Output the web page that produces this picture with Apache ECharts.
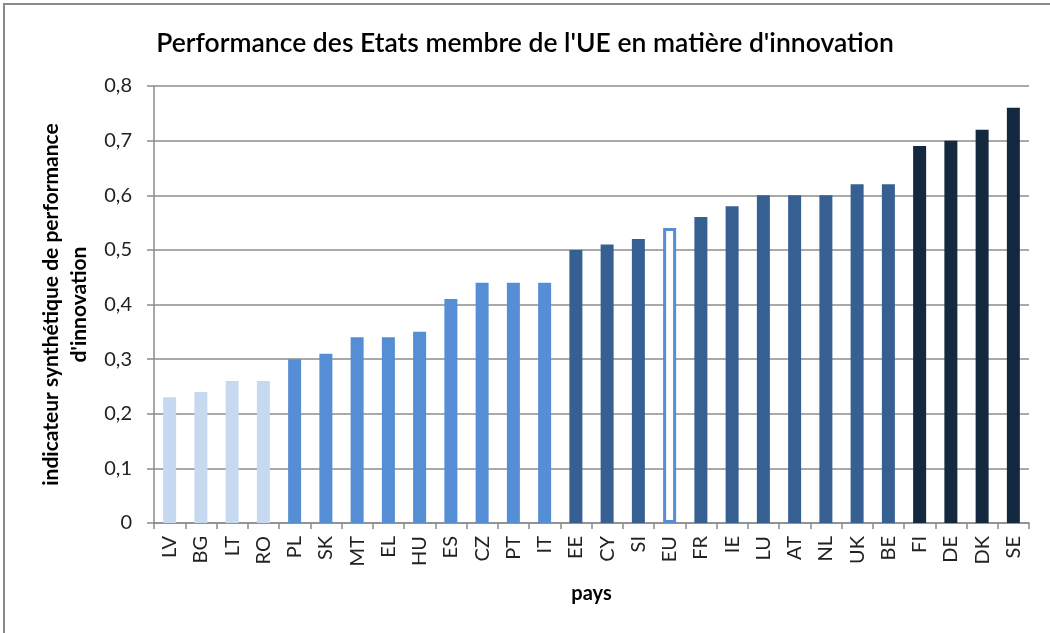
<!DOCTYPE html>
<html>
<head>
<meta charset="utf-8">
<script src="https://cdn.jsdelivr.net/npm/echarts@6/dist/echarts.min.js"></script>
<style>
html,body{margin:0;padding:0;background:#fff;}
#c{width:1050px;height:633px;}
</style>
</head>
<body>
<div id="c"></div>
<script>
const categories = ['LV','BG','LT','RO','PL','SK','MT','EL','HU','ES','CZ','PT','IT','EE','CY','SI','EU','FR','IE','LU','AT','NL','UK','BE','FI','DE','DK','SE'];
const values = [0.23,0.24,0.26,0.26,0.30,0.31,0.34,0.34,0.35,0.41,0.44,0.44,0.44,0.50,0.51,0.52,0.54,0.56,0.58,0.60,0.60,0.60,0.62,0.62,0.69,0.70,0.72,0.76];
const tiers = [0,0,0,0,1,1,1,1,1,1,1,1,1,2,2,2,'eu',2,2,2,2,2,2,2,3,3,3,3];
const yTicks = ['0','0,1','0,2','0,3','0,4','0,5','0,6','0,7','0,8'];

const tierColors = {0:'#c6d9f1',1:'#558ed5',2:'#376092',3:'#14283f'};
const font = 'Lato, "Open Sans", sans-serif';

const data = values.map((v,i)=>{
  const t = tiers[i];
  if (t === 'eu') {
    return {value:v, itemStyle:{color:'#ffffff', borderColor:'#558ed5', borderWidth:3}};
  }
  return {value:v, itemStyle:{color:tierColors[t]}};
});

const chart = echarts.init(document.getElementById('c'));
chart.setOption({
  animation:false,
  backgroundColor:'#ffffff',
  title:{
    text:"Performance des Etats membre de l'UE en matière d'innovation",
    left:'center', top:25,
    textStyle:{fontFamily:font, fontSize:26.5, fontWeight:600, color:'#000'}
  },
  grid:{left:154, right:21, top:86, bottom:110},
  xAxis:{
    type:'category',
    data:categories,
    name:'pays',
    nameLocation:'middle',
    nameGap:61,
    nameTextStyle:{fontFamily:font, fontSize:20, fontWeight:'bold', color:'#000'},
    axisLine:{lineStyle:{color:'#8c8c8c', width:1.5}},
    axisTick:{show:true, alignWithLabel:false, length:6, lineStyle:{color:'#8c8c8c', width:1.5}},
    axisLabel:{rotate:90, fontFamily:font, fontSize:20, color:'#222', margin:13, interval:0}
  },
  yAxis:{
    type:'value',
    min:0, max:0.8, interval:0.1,
    name:"indicateur synthétique de performance\nd'innovation",
    nameLocation:'middle',
    nameGap:58,
    nameRotate:90,
    nameTextStyle:{fontFamily:font, fontSize:21, fontWeight:'bold', color:'#000', lineHeight:28},
    axisLine:{show:true, lineStyle:{color:'#8c8c8c', width:1.5}},
    axisTick:{show:true, length:7, lineStyle:{color:'#8c8c8c', width:1.5}},
    splitLine:{lineStyle:{color:'#8c8c8c', width:1.5}},
    axisLabel:{fontFamily:font, fontSize:20, color:'#222', margin:22,
      formatter:(v)=>yTicks[Math.round(v*10)]}
  },
  series:[{
    type:'bar',
    data:data,
    barWidth:13
  }],
  graphic:[{
    type:'rect',
    shape:{x:4, y:4, width:1070, height:660},
    style:{fill:'none', stroke:'#8a8a8a', lineWidth:2},
    silent:true
  }]
});
</script>
</body>
</html>
